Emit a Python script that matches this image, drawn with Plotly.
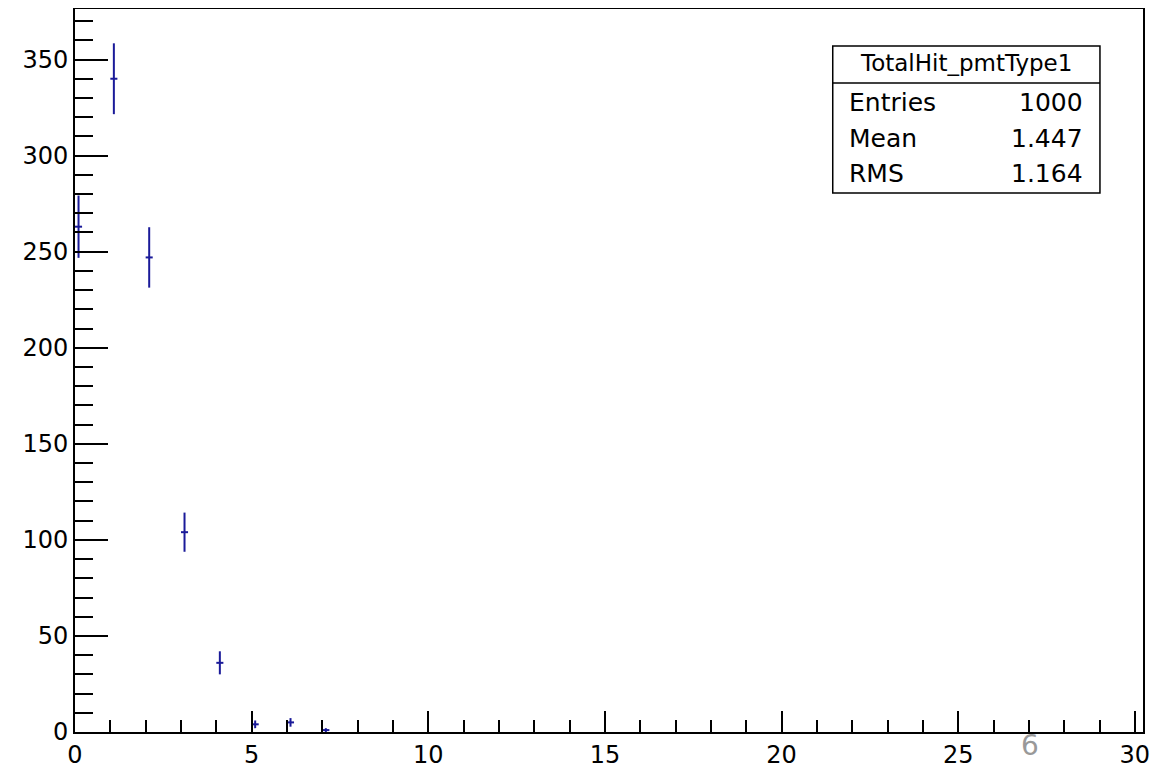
import numpy as np
import plotly.graph_objects as go

# Histogram data (bin centers and counts)
bin_centers = [0.1, 1.1, 2.1, 3.1, 4.1, 5.1, 6.1, 7.1]
counts = [263, 340, 247, 104, 36, 4, 5, 1]
half_width = [0.1] * len(bin_centers)
errors = [float(np.sqrt(c)) for c in counts]

stat_title = "TotalHit_pmtType1"
stat_labels = ["Entries", "Mean", "RMS"]
stat_values = ["1000", "1.447", "1.164"]

x_ticks = [0, 5, 10, 15, 20, 25, 30]
y_ticks = [0, 50, 100, 150, 200, 250, 300, 350]

FONT = "DejaVu Sans, Liberation Sans, Arial, sans-serif"
BLUE = "#1a1a99"

fig = go.Figure()
fig.add_trace(go.Scatter(
    x=bin_centers, y=counts, mode="markers",
    marker=dict(size=1, color=BLUE, opacity=0),
    error_y=dict(type="data", array=errors, visible=True, color=BLUE, thickness=2, width=0),
    error_x=dict(type="data", array=half_width, visible=True, color=BLUE, thickness=2, width=0),
    showlegend=False, hoverinfo="x+y",
))

# page body has an 8px margin, so the figure is sized to end at the window edge
fig.update_layout(
    width=1168, height=761,
    margin=dict(l=67, r=33, t=1, b=37, autoexpand=False),
    plot_bgcolor="white", paper_bgcolor="white",
    font=dict(family=FONT, size=24, color="black"),
    xaxis=dict(
        range=[0, 30.23], tickmode="array", tickvals=x_ticks,
        ticktext=[str(v) for v in x_ticks],
        ticks="inside", ticklen=21, tickwidth=2, tickcolor="black",
        minor=dict(dtick=1, ticks="inside", ticklen=12, tickwidth=2, tickcolor="black"),
        showline=True, linecolor="black", linewidth=2, mirror=True,
        showgrid=False, zeroline=False, automargin=False,
        tickfont=dict(size=24, family=FONT),
    ),
    yaxis=dict(
        range=[0, 376.3], tickmode="array", tickvals=y_ticks,
        ticktext=[str(v) for v in y_ticks],
        ticks="inside", ticklen=33, tickwidth=2, tickcolor="black",
        minor=dict(dtick=10, ticks="inside", ticklen=18, tickwidth=2, tickcolor="black"),
        showline=True, linecolor="black", linewidth=2, mirror=True,
        showgrid=False, zeroline=False, automargin=False,
        tickfont=dict(size=24, family=FONT),
    ),
)

# Stat box
bx0, bx1, by0, by1, bsep = 0.7095, 0.9597, 0.7455, 0.9488, 0.8976
fig.add_shape(type="rect", xref="paper", yref="paper", x0=bx0, x1=bx1, y0=by0, y1=by1,
              line=dict(color="black", width=1.5), fillcolor="white", layer="above")
fig.add_shape(type="line", xref="paper", yref="paper", x0=bx0, x1=bx1, y0=bsep, y1=bsep,
              line=dict(color="black", width=1.5))
fig.add_annotation(xref="paper", yref="paper", x=(bx0 + bx1) / 2, y=0.9253,
                   text=stat_title, showarrow=False, xanchor="center", yanchor="middle",
                   font=dict(size=23, family=FONT))
row_y = [0.870, 0.8202, 0.7718]
for lab, val, yy in zip(stat_labels, stat_values, row_y):
    fig.add_annotation(xref="paper", yref="paper", x=0.7228, y=yy, text=lab,
                       showarrow=False, xanchor="left", yanchor="middle",
                       font=dict(size=25, family=FONT))
    fig.add_annotation(xref="paper", yref="paper", x=0.9457, y=yy, text=val,
                       showarrow=False, xanchor="right", yanchor="middle",
                       font=dict(size=25, family=FONT))

# stray gray label
fig.add_annotation(xref="paper", yref="paper", x=(1030 - 75) / 1068, y=-0.019, text="6",
                   showarrow=False, xanchor="center", yanchor="middle",
                   font=dict(size=28, family=FONT, color="#999999"))

fig.write_html("out.html")
